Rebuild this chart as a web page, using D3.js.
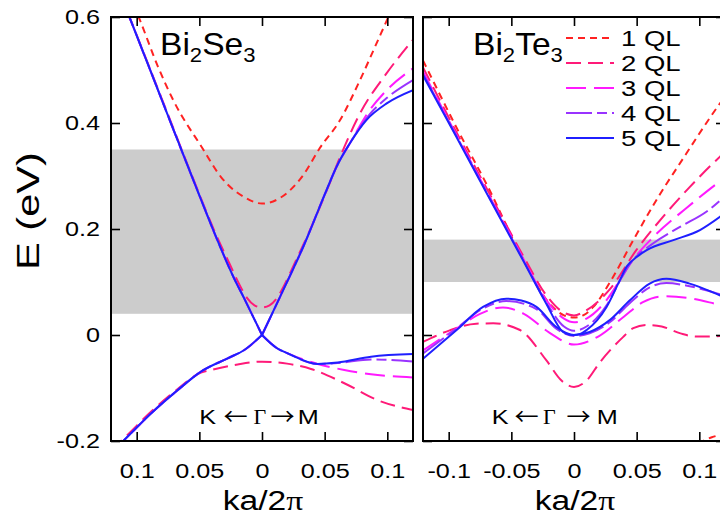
<!DOCTYPE html>
<html><head><meta charset="utf-8">
<script src="https://cdn.jsdelivr.net/npm/d3@7"></script>
<style>body{margin:0;background:#fff} svg{display:block}</style>
</head><body><svg id="c" width="720" height="521"></svg>
<script>
// ---------------- data ----------------
const seriesNames  = ["1 QL","2 QL","3 QL","4 QL","5 QL"];
const seriesColors = ["#ff2222","#ff1a78","#ff1aff","#9933ff","#1f1fff"];
const seriesDash   = ["7,5","15,7","20,8","26,5,10,5",null];

const yTicks = [0.6,0.4,0.2,0,-0.2];
const yTickLabels = ["0.6","0.4","0.2","0","-0.2"];
const kTicks = [-0.1,-0.05,0,0.05,0.1];
const seTickLabels = ["0.1","0.05","0","0.05","0.1"];
const teTickLabels = ["-0.1","-0.05","0","0.05","0.1"];
const seBand = [0.04,0.35];
const teBand = [0.10,0.18];

// Bi2Se3  [k, E]
const seCB1 = [[-0.11,0.665],[-0.0974,0.594],[-0.0833,0.508],[-0.0708,0.443],[-0.0474,0.352],[-0.0327,0.298],[-0.0141,0.26],[0,0.248],[0.014,0.258],[0.033,0.302],[0.0459,0.352],[0.0622,0.405],[0.0782,0.481],[0.0925,0.556],[0.1008,0.6],[0.11,0.652]];
const seCB2 = [[-0.1205,0.685],[-0.1053,0.597],[-0.0805,0.449],[-0.0548,0.294],[-0.0383,0.198],[-0.026,0.135],[-0.018,0.095],[-0.012,0.07],[-0.006,0.056],[0,0.052],[0.006,0.056],[0.012,0.07],[0.018,0.095],[0.026,0.135],[0.0383,0.198],[0.0543,0.288],[0.0622,0.335],[0.0782,0.418],[0.0995,0.494],[0.1205,0.557]];
const seCB5L = [[-0.115,0.655],[-0.1053,0.597],[-0.0805,0.447],[-0.0548,0.292],[-0.0335,0.167],[-0.0229,0.11],[-0.0144,0.07],[0,0]];
const seCB5R = [[0,0],[0.0144,0.072],[0.033,0.167],[0.0516,0.274],[0.0596,0.318],[0.0702,0.362],[0.0835,0.406],[0.0995,0.437],[0.1205,0.462]];
const seCB4R = [[0,0],[0.0144,0.072],[0.033,0.167],[0.0516,0.274],[0.0596,0.318],[0.0702,0.362],[0.0862,0.417],[0.0995,0.447],[0.1205,0.481]];
const seCB3R = [[0,0],[0.0144,0.072],[0.033,0.167],[0.0516,0.274],[0.0596,0.318],[0.0702,0.362],[0.0862,0.425],[0.0995,0.462],[0.1205,0.503]];
const seVB2 = [[-0.1205,-0.218],[-0.108,-0.19],[-0.0886,-0.145],[-0.0673,-0.102],[-0.0487,-0.071],[-0.0407,-0.066],[-0.0194,-0.0555],[0,-0.0503],[0.02,-0.054],[0.0391,-0.064],[0.0657,-0.091],[0.0923,-0.123],[0.1205,-0.1415]];
const seVB5L = [[-0.1205,-0.222],[-0.1099,-0.198],[-0.0886,-0.148],[-0.0673,-0.104],[-0.0487,-0.069],[-0.0274,-0.044],[-0.0141,-0.0283],[0,0]];
const seVB5R = [[0,0],[0.012,-0.025],[0.0205,-0.0346],[0.0444,-0.0547],[0.0604,-0.052],[0.087,-0.041],[0.1205,-0.036]];
const seVB4R = [[0,0],[0.012,-0.025],[0.0205,-0.0346],[0.0444,-0.0547],[0.0604,-0.053],[0.087,-0.046],[0.1205,-0.05]];
const seVB3R = [[0,0],[0.012,-0.025],[0.0205,-0.0346],[0.0444,-0.0547],[0.0657,-0.066],[0.087,-0.074],[0.1205,-0.08]];

// Bi2Te3  [k, E]
const teCB1 = [[-0.1205,0.518],[-0.0939,0.392],[-0.0673,0.273],[-0.0431,0.154],[-0.0194,0.059],[-0.008,0.037],[0,0.033],[0.008,0.038],[0.0154,0.053],[0.0313,0.11],[0.0473,0.179],[0.074,0.286],[0.0793,0.305],[0.1165,0.437],[0.1205,0.45]];
const teCB2 = [[-0.1205,0.505],[-0.0939,0.383],[-0.0673,0.266],[-0.0407,0.15],[-0.0221,0.075],[-0.01,0.045],[0,0.037],[0.0098,0.0465],[0.0285,0.086],[0.0497,0.16],[0.071,0.223],[0.0923,0.279],[0.1163,0.336],[0.1205,0.345]];
const teCB3 = [[-0.1205,0.497],[-0.0939,0.378],[-0.0673,0.261],[-0.0407,0.145],[-0.0221,0.066],[-0.008,0.031],[0,0.024],[0.01,0.031],[0.026,0.066],[0.037,0.105],[0.045,0.135],[0.0633,0.185],[0.09,0.24],[0.1165,0.29],[0.1205,0.297]];
const teCB4 = [[-0.1205,0.493],[-0.0939,0.376],[-0.0673,0.259],[-0.0407,0.143],[-0.0221,0.061],[-0.008,0.016],[0,0.008],[0.01,0.016],[0.026,0.056],[0.037,0.104],[0.045,0.135],[0.0633,0.173],[0.0846,0.204],[0.1059,0.233],[0.1205,0.262]];
const teCB5 = [[-0.1205,0.49],[-0.0939,0.374],[-0.0673,0.257],[-0.0407,0.141],[-0.0221,0.059],[-0.0088,0.0057],[-0.004,0.001],[0,0],[0.005,0.002],[0.0101,0.0094],[0.026,0.053],[0.0367,0.104],[0.042,0.129],[0.05,0.147],[0.058,0.16],[0.0793,0.179],[0.1005,0.198],[0.1165,0.223],[0.1205,0.23]];
const teVB1 = [[0.099,-0.205],[0.11,-0.193],[0.1205,-0.187]];
const teVB2 = [[-0.1205,-0.013],[-0.0992,0.0088],[-0.078,0.0214],[-0.0644,0.022],[-0.0431,0.0094],[-0.022,-0.048],[-0.01,-0.086],[0,-0.098],[0.01,-0.086],[0.0205,-0.052],[0.0391,-0.004],[0.0473,0.013],[0.058,0.019],[0.07,0.016],[0.085,0.003],[0.0976,-0.003],[0.1165,-0.002],[0.1205,-0.001]];
const teVB3 = [[-0.1205,-0.029],[-0.0939,0.012],[-0.075,0.04],[-0.0567,0.052],[-0.04,0.04],[-0.02,0.005],[0,-0.018],[0.02,-0.002],[0.04,0.035],[0.055,0.062],[0.071,0.073],[0.09,0.07],[0.1165,0.057],[0.1205,0.055]];
const teVB4 = [[-0.1205,-0.035],[-0.0939,0.012],[-0.0726,0.05],[-0.054,0.064],[-0.03,0.049],[-0.0141,0.012],[0,-0.002],[0.0125,0.003],[0.0285,0.024],[0.0444,0.06],[0.0604,0.09],[0.0737,0.098],[0.0923,0.092],[0.1163,0.077],[0.1205,0.074]];
const teVB5 = [[-0.1205,-0.045],[-0.0939,0.0088],[-0.0726,0.053],[-0.054,0.0686],[-0.042,0.065],[-0.03,0.053],[-0.0141,0.015],[0,0],[0.0125,0.0057],[0.0285,0.028],[0.0444,0.065],[0.0604,0.097],[0.0737,0.106],[0.0923,0.097],[0.1163,0.075],[0.1205,0.071]];

// ---------------- layout ----------------
const SANS = "'Liberation Sans', Arial, Helvetica, sans-serif";
const SERIF = "'Liberation Serif', 'DejaVu Serif', serif";
const ARROWF = "'Noto Sans CJK JP', 'DejaVu Sans', sans-serif";
const SX = 1.2;
const yTop = 17, yBot = 441;
const svg = d3.select("#c");
const y = d3.scaleLinear().domain([-0.2,0.6]).range([yBot, yTop]);

const panels = [
  {id:"se", x0:111, x1:413, band:seBand, tickLabels:seTickLabels, showY:true,
   curves:[[0,seCB1],[1,seCB2],[1,seVB2],[2,seCB5L],[2,seCB3R],[2,seVB5L],[2,seVB3R],
           [3,seCB5L],[3,seCB4R],[3,seVB5L],[3,seVB4R],[4,seCB5L],[4,seCB5R],[4,seVB5L],[4,seVB5R]]},
  {id:"te", x0:423, x1:725, band:teBand, tickLabels:teTickLabels, showY:false,
   curves:[[0,teCB1],[0,teVB1],[1,teCB2],[1,teVB2],[2,teCB3],[2,teVB3],[3,teCB4],[3,teVB4],[4,teCB5],[4,teVB5]]}
];

function stxt(g, x, yy, str, size, anchor, fam, sx){
  return g.append("text").attr("transform",`translate(${x},${yy}) scale(${sx===undefined?SX:sx},1)`)
    .attr("text-anchor",anchor||"start").attr("font-family",fam||SANS).attr("font-size",size)
    .attr("fill","#000").text(str);
}

panels.forEach(p=>{
  const x = d3.scaleLinear().domain([-0.1205,0.1205]).range([p.x0,p.x1]);
  const g = svg.append("g");
  svg.append("clipPath").attr("id","clip-"+p.id).append("rect")
     .attr("x",p.x0).attr("y",yTop).attr("width",p.x1-p.x0).attr("height",yBot-yTop);
  g.append("rect").attr("x",p.x0).attr("width",p.x1-p.x0)
     .attr("y",y(p.band[1])).attr("height",y(p.band[0])-y(p.band[1])).attr("fill","#cccccc");
  const line = d3.line().x(d=>x(d[0])).y(d=>y(d[1])).curve(d3.curveMonotoneX);
  const cg = g.append("g").attr("clip-path",`url(#clip-${p.id})`);
  p.curves.forEach(([s,data])=>{
    cg.append("path").attr("d",line(data)).attr("fill","none")
      .attr("stroke",seriesColors[s]).attr("stroke-width",2)
      .attr("stroke-dasharray",seriesDash[s]);
  });
  const axL = g.append("g").attr("transform",`translate(${p.x0},0)`)
     .call(d3.axisLeft(y).tickValues(yTicks).tickSize(-9).tickPadding(11).tickFormat((d,i)=>p.showY?yTickLabels[i]:""));
  const axR = g.append("g").attr("transform",`translate(${p.x1},0)`)
     .call(d3.axisRight(y).tickValues(yTicks).tickSize(-9).tickFormat(""));
  const axB = g.append("g").attr("transform",`translate(0,${yBot})`)
     .call(d3.axisBottom(x).tickValues(kTicks).tickSize(-9).tickPadding(22).tickFormat((d,i)=>p.tickLabels[i]));
  const axT = g.append("g").attr("transform",`translate(0,${yTop})`)
     .call(d3.axisTop(x).tickValues(kTicks).tickSize(-9).tickFormat(""));
  [axL,axR,axB,axT].forEach(a=>{
    a.select(".domain").remove();
    a.selectAll(".tick line").attr("stroke","#000").attr("stroke-width",1.6);
    a.selectAll("text").attr("font-family",SANS).attr("font-size",21).attr("fill","#000");
  });
  axL.selectAll("text").attr("x",0).attr("transform",`translate(-11,0) scale(${SX},1)`).attr("dy","0.3em");
  axB.selectAll("text").attr("transform",`scale(${SX},1)`);
  g.append("rect").attr("x",p.x0).attr("y",yTop).attr("width",p.x1-p.x0).attr("height",yBot-yTop)
     .attr("fill","none").attr("stroke","#000").attr("stroke-width",2);
  const cx = (p.x0+p.x1)/2 + 1;
  const xl = g.append("text").attr("transform",`translate(${cx},510) scale(${SX},1)`)
     .attr("text-anchor","middle").attr("font-family",SANS).attr("font-size",28);
  xl.append("tspan").text("ka/2");
  xl.append("tspan").attr("font-family",SERIF).text("π");
});

const dirL = [["K",199.3],["←",223.5],["Γ",253.5],["→",270.5],["M",297.7]];
const dirR = [["K",491.7],["←",514.5],["Γ",543],["→",566.5],["M",596.7]];
[dirL,dirR].forEach(arr=>arr.forEach(([s,xx])=>{
  if (s==="←"||s==="→") stxt(svg, xx, 425, s, 23, "start", ARROWF, 1.05);
  else if (s==="Γ") stxt(svg, xx, 423.7, s, 22, "start", SERIF, 1.0);
  else stxt(svg, xx, 423.7, s, 21, "start", SANS, SX);
}));

function title(x0, a){
  const t = svg.append("text").attr("transform",`translate(${x0},55) scale(1.05,1)`)
    .attr("font-family",SANS).attr("font-size",32).attr("fill","#000");
  t.append("tspan").text("Bi");
  t.append("tspan").attr("font-size",21).attr("dy",7).text("2");
  t.append("tspan").attr("dy",-7).text(a);
  t.append("tspan").attr("font-size",21).attr("dy",7).text("3");
}
title(160,"Se"); title(473,"Te");

svg.append("text").attr("transform",`translate(39,211) rotate(-90) scale(1.3,1)`)
  .attr("text-anchor","middle").attr("font-family",SANS).attr("font-size",32).text("E (eV)");

const legY = [38,63,88,113,138];
seriesNames.forEach((n,i)=>{
  svg.append("line").attr("x1",566).attr("x2",614).attr("y1",legY[i]).attr("y2",legY[i])
    .attr("stroke",seriesColors[i]).attr("stroke-width",2).attr("stroke-dasharray",seriesDash[i]);
  stxt(svg, 621, legY[i]+7.8, n, 22, "start", SANS, 1.25);
});
</script></body></html>
